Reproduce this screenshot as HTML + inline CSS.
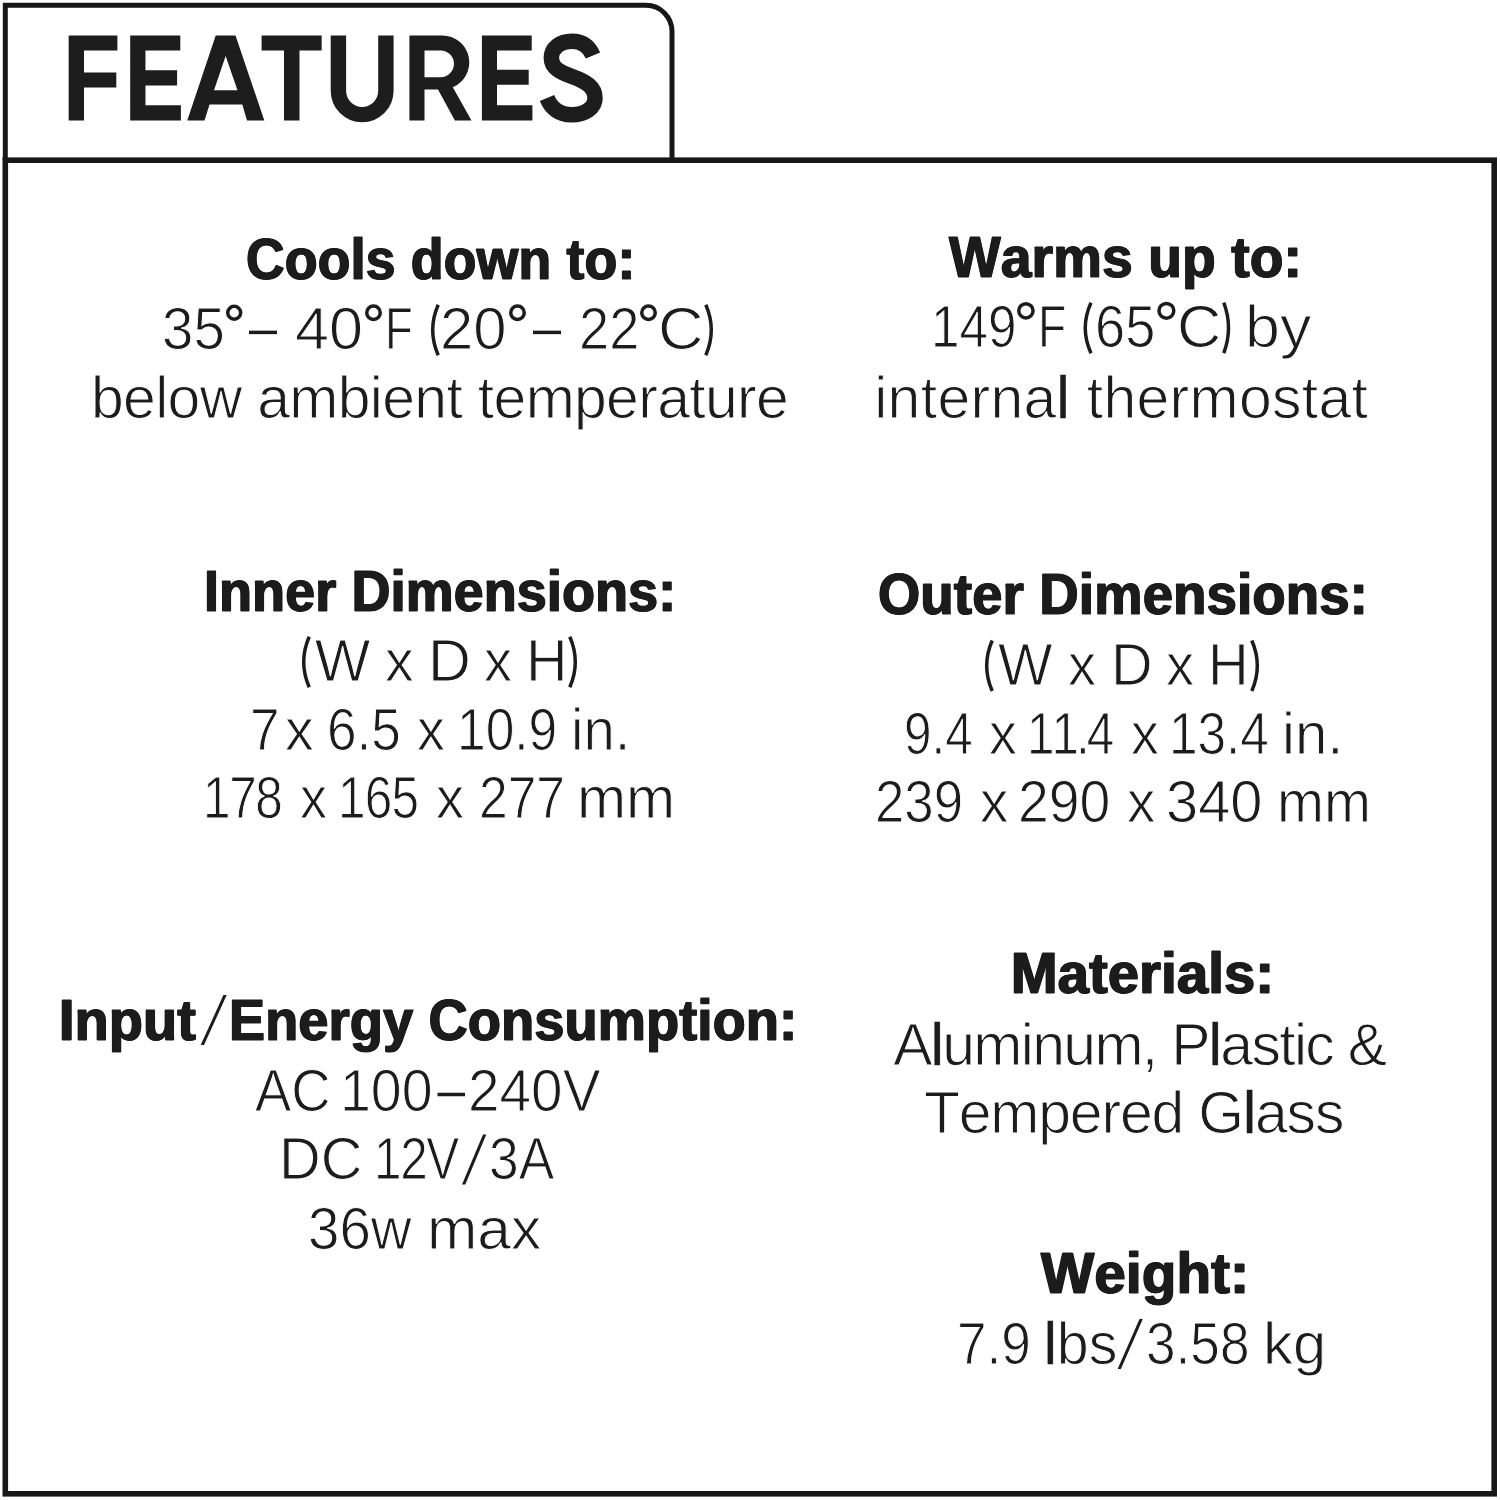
<!DOCTYPE html>
<html lang="en"><head><meta charset="utf-8"><title>Features</title><style>
html,body{margin:0;padding:0;background:#fff;}
body{width:1500px;height:1500px;position:relative;overflow:hidden;font-family:"Liberation Sans",sans-serif;color:#1c1c1c;}
.t{position:absolute;white-space:pre;line-height:0;transform-origin:0 0;font-kerning:none;font-variant-ligatures:none;}
.r{font-weight:400;font-size:58.9px;-webkit-text-stroke:1.0px #fff;}
.r b{font-weight:400;-webkit-text-stroke:0.4px #1c1c1c;}
.b{font-weight:700;font-size:57.0px;-webkit-text-stroke:1.0px #1c1c1c;text-shadow:0.9px 0 0 #1c1c1c,-0.9px 0 0 #1c1c1c;}
</style></head><body>
<svg style="position:absolute;left:0;top:0" width="1500" height="1500" viewBox="0 0 1500 1500" fill="none" stroke="#171717"><path stroke-width="5" d="M5.3 160V5.3H646A26 26 0 0 1 672 31.3V160"/><rect stroke-width="5.6" x="5.3" y="160.2" width="1488.9" height="1333.6"/></svg>
<svg style="position:absolute;left:0;top:0" width="700" height="160" viewBox="0 0 700 160" fill="#1d1d1d"><path d="M68.65 35.45H117.4V50.6H84V72.5H116.3V87.4H84V120.5H68.65Z"/><path d="M130.2 35.45H180.3V50.6H145.45V70.3H177.1V85.6H145.45V105.2H180.9V120.5H130.2Z"/><path fill-rule="evenodd" d="M187.25 120.5L215.7 35.45H235.5L264.3 120.5H247L242.3 104.5H209.5L204.5 120.5ZM214 90.3H237.5L225.65 55.9Z"/><path d="M261.6 35.45H321.65V50.6H299.5V120.5H284V50.6H261.6Z"/><path d="M330.7 35.45H346.1V90.85A16.05 16.05 0 0 0 378.2 90.85V35.45H393.6V90.85A31.45 31.45 0 0 1 330.7 90.85Z"/><path fill-rule="evenodd" d="M409.4 35.45H442.3A27 27 0 0 1 452.8 87.3L471.5 120.5H454.9L438 89.5H424.5V120.5H409.4ZM424.5 50.4V77.3H440.5A13.45 13.45 0 0 0 440.5 50.4Z"/><path d="M481.9 35.45H531.7V50.6H497V69.8H528.7V84.7H497V105.2H532.4V120.5H481.9Z"/><path fill="none" stroke="#1d1d1d" stroke-width="15.5" d="M593 55.6C589 46 582 41.25 572 41.25C560 41.25 551.35 48 551.35 58C551.35 68 560 72 572 76.5C586 81.5 595 87 595 98C595 108 585 114.85 571.5 114.85C559 114.85 551 108 547 98"/></svg>
<div class="t b" style="left:245.94px;top:259.34px;letter-spacing:0.300px;transform:scaleX(0.9369);">Cools down to:</div>
<div class="t r" style="left:162.10px;top:329.28px;transform:scaleX(0.9581);">35</div>
<div class="t r" style="left:295.00px;top:329.28px;transform:scaleX(1.0375);">40</div>
<div class="t r" style="left:385.09px;top:329.28px;transform:scaleX(0.7720);">F</div>
<div class="t r" style="left:440.42px;top:329.28px;transform:scaleX(1.0152);">20</div>
<div class="t r" style="left:579.08px;top:329.28px;transform:scaleX(0.9198);">22</div>
<div class="t r" style="left:658.16px;top:329.28px;transform:scaleX(1.0702);">C</div>
<div class="t r" style="left:90.96px;top:397.78px;letter-spacing:-0.659px;">below ambient temperature</div>
<div class="t b" style="left:204.46px;top:591.44px;letter-spacing:0.300px;transform:scaleX(0.9404);">Inner Dimensions:</div>
<div class="t r" style="left:314.69px;top:661.38px;">W</div>
<div class="t r" style="left:385.16px;top:661.38px;transform:scaleX(0.9752);">x</div>
<div class="t r" style="left:427.58px;top:661.38px;transform:scaleX(1.0077);">D</div>
<div class="t r" style="left:484.17px;top:661.38px;transform:scaleX(0.9544);">x</div>
<div class="t r" style="left:526.08px;top:661.38px;transform:scaleX(0.9763);">H</div>
<div class="t r" style="left:250.39px;top:730.38px;transform:scaleX(0.9023);">7</div>
<div class="t r" style="left:284.86px;top:730.38px;transform:scaleX(0.9752);">x</div>
<div class="t r" style="left:327.09px;top:730.38px;transform:scaleX(0.9033);">6.5</div>
<div class="t r" style="left:417.17px;top:730.38px;transform:scaleX(0.9486);">x</div>
<div class="t r" style="left:457.28px;top:730.38px;transform:scaleX(0.8749);">10.9</div>
<div class="t r" style="left:571.08px;top:730.38px;transform:scaleX(0.9558);">in.</div>
<div class="t r" style="left:202.79px;top:798.18px;letter-spacing:-1.632px;transform:scaleX(0.8400);">178</div>
<div class="t r" style="left:300.49px;top:798.18px;transform:scaleX(0.9185);">x</div>
<div class="t r" style="left:337.79px;top:798.18px;letter-spacing:-0.905px;transform:scaleX(0.8400);">165</div>
<div class="t r" style="left:436.47px;top:798.18px;transform:scaleX(0.9544);">x</div>
<div class="t r" style="left:478.64px;top:798.18px;transform:scaleX(0.8748);">277</div>
<div class="t r" style="left:577.15px;top:798.18px;transform:scaleX(1.0006);">mm</div>
<div class="t b" style="left:58.99px;top:1020.34px;letter-spacing:0.300px;transform:scaleX(0.9738);">Input</div>
<div class="t b" style="left:229.15px;top:1020.34px;letter-spacing:0.300px;transform:scaleX(0.9457);">Energy Consumption:</div>
<div class="t r" style="left:255.09px;top:1091.38px;transform:scaleX(0.9248);">AC</div>
<div class="t r" style="left:340.20px;top:1091.38px;transform:scaleX(0.9421);">100</div>
<div class="t r" style="left:467.90px;top:1091.38px;transform:scaleX(0.9632);">240V</div>
<div class="t r" style="left:278.88px;top:1159.48px;transform:scaleX(0.9800);">DC</div>
<div class="t r" style="left:373.59px;top:1159.48px;letter-spacing:-1.626px;transform:scaleX(0.8400);">12V</div>
<div class="t r" style="left:488.52px;top:1159.48px;transform:scaleX(0.9062);">3A</div>
<div class="t r" style="left:308.39px;top:1229.08px;transform:scaleX(0.9592);">36w</div>
<div class="t r" style="left:426.60px;top:1229.08px;transform:scaleX(1.0261);">max</div>
<div class="t b" style="left:948.90px;top:257.44px;letter-spacing:0.300px;transform:scaleX(0.9602);">Warms up to:</div>
<div class="t r" style="left:930.60px;top:327.28px;transform:scaleX(0.8698);">149</div>
<div class="t r" style="left:1037.69px;top:327.28px;transform:scaleX(0.7842);">F</div>
<div class="t r" style="left:1094.79px;top:327.28px;transform:scaleX(0.9204);">65</div>
<div class="t r" style="left:1177.25px;top:327.28px;transform:scaleX(1.0419);">C</div>
<div class="t r" style="left:1244.64px;top:327.28px;transform:scaleX(1.0650);">by</div>
<div class="t r" style="left:874.20px;top:397.78px;letter-spacing:0.335px;">interna<b>l</b> thermostat</div>
<div class="t b" style="left:878.41px;top:594.44px;letter-spacing:0.300px;transform:scaleX(0.9516);">Outer Dimensions:</div>
<div class="t r" style="left:997.71px;top:665.08px;transform:scaleX(0.9815);">W</div>
<div class="t r" style="left:1068.17px;top:665.08px;transform:scaleX(0.9544);">x</div>
<div class="t r" style="left:1110.74px;top:665.08px;transform:scaleX(0.9785);">D</div>
<div class="t r" style="left:1166.17px;top:665.08px;transform:scaleX(0.9544);">x</div>
<div class="t r" style="left:1208.46px;top:665.08px;transform:scaleX(0.9559);">H</div>
<div class="t r" style="left:903.74px;top:734.28px;letter-spacing:-0.071px;transform:scaleX(0.8400);">9.4</div>
<div class="t r" style="left:988.67px;top:734.28px;transform:scaleX(0.9486);">x</div>
<div class="t r" style="left:1027.49px;top:734.28px;letter-spacing:-3.529px;transform:scaleX(0.8400);">11.4</div>
<div class="t r" style="left:1130.77px;top:734.28px;transform:scaleX(0.9486);">x</div>
<div class="t r" style="left:1169.09px;top:734.28px;transform:scaleX(0.8716);">13.4</div>
<div class="t r" style="left:1281.76px;top:734.28px;transform:scaleX(0.9882);">in.</div>
<div class="t r" style="left:875.27px;top:801.58px;transform:scaleX(0.8960);">239</div>
<div class="t r" style="left:980.36px;top:801.58px;transform:scaleX(0.9622);">x</div>
<div class="t r" style="left:1018.08px;top:801.58px;transform:scaleX(0.9403);">290</div>
<div class="t r" style="left:1127.36px;top:801.58px;transform:scaleX(0.9622);">x</div>
<div class="t r" style="left:1166.40px;top:801.58px;transform:scaleX(0.9822);">340</div>
<div class="t r" style="left:1277.09px;top:801.58px;transform:scaleX(0.9572);">mm</div>
<div class="t b" style="left:1011.07px;top:973.34px;letter-spacing:0.300px;transform:scaleX(0.9783);">Materials:</div>
<div class="t r" style="left:893.17px;top:1044.58px;letter-spacing:-1.650px;">A<b>l</b>uminum, P<b>l</b>astic &amp;</div>
<div class="t r" style="left:923.90px;top:1112.58px;letter-spacing:-1.145px;">Tempered G<b>l</b>ass</div>
<div class="t b" style="left:1041.46px;top:1273.34px;letter-spacing:0.300px;transform:scaleX(0.9869);">Weight:</div>
<div class="t r" style="left:957.29px;top:1343.98px;transform:scaleX(0.9020);">7.9</div>
<div class="t r" style="left:1044.01px;top:1343.98px;transform:scaleX(0.9750);"><b>l</b>bs</div>
<div class="t r" style="left:1145.62px;top:1343.98px;transform:scaleX(0.9024);">3.58</div>
<div class="t r" style="left:1262.81px;top:1343.98px;transform:scaleX(1.0151);">kg</div>
<svg style="position:absolute;left:0;top:0" width="1500" height="1500" viewBox="0 0 1500 1500" fill="#1c1c1c"><circle cx="234.2" cy="312.8" r="6.45" fill="none" stroke="#1c1c1c" stroke-width="3.5"/><rect x="249.0" y="330.65" width="28.0" height="3.5"/><circle cx="373.5" cy="312.8" r="6.75" fill="none" stroke="#1c1c1c" stroke-width="3.5"/><path fill="none" stroke="#1c1c1c" stroke-width="3.5" d="M438.2 304.7Q427.2 329.9 438.2 355.2"/><circle cx="517.5" cy="312.8" r="6.75" fill="none" stroke="#1c1c1c" stroke-width="3.5"/><rect x="533.0" y="330.65" width="28.0" height="3.5"/><circle cx="648.5" cy="312.8" r="6.75" fill="none" stroke="#1c1c1c" stroke-width="3.5"/><path fill="none" stroke="#1c1c1c" stroke-width="3.5" d="M705.8 304.7Q716.8 329.9 705.8 355.2"/><path fill="none" stroke="#1c1c1c" stroke-width="3.5" d="M309.2 636.8Q298.2 662.0 309.2 687.3"/><path fill="none" stroke="#1c1c1c" stroke-width="3.5" d="M569.8 636.8Q580.8 662.0 569.8 687.3"/><path d="M200.7 1045.1H204.0L226.7 995.1H223.4Z"/><rect x="437.5" y="1092.75" width="27.5" height="3.5"/><path d="M462.0 1184.4H465.3L486.3 1134.4H483.0Z"/><circle cx="1025.9" cy="310.8" r="7.15" fill="none" stroke="#1c1c1c" stroke-width="3.5"/><path fill="none" stroke="#1c1c1c" stroke-width="3.5" d="M1091.0 302.7Q1079.5 327.9 1091.0 353.2"/><circle cx="1166.4" cy="310.8" r="7.40" fill="none" stroke="#1c1c1c" stroke-width="3.5"/><path fill="none" stroke="#1c1c1c" stroke-width="3.5" d="M1223.8 302.7Q1233.2 327.9 1223.8 353.2"/><path fill="none" stroke="#1c1c1c" stroke-width="3.5" d="M992.2 640.5Q981.2 665.8 992.2 691.0"/><path fill="none" stroke="#1c1c1c" stroke-width="3.5" d="M1251.8 640.5Q1262.8 665.8 1251.8 691.0"/><path d="M1117.6 1368.9H1120.9L1142.8 1318.9H1139.5Z"/></svg>
</body></html>
